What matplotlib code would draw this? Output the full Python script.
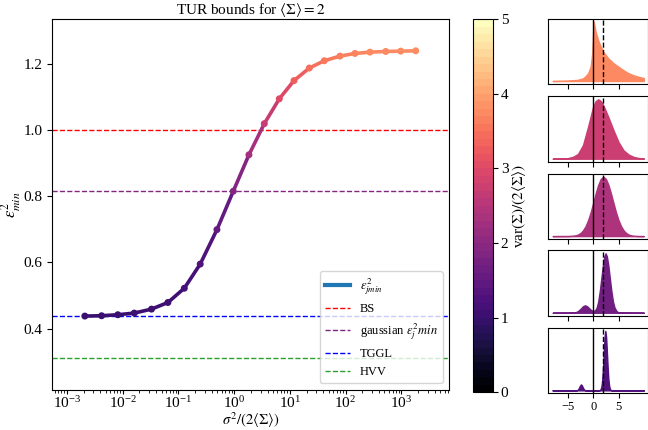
import numpy as np
import matplotlib
matplotlib.use("Agg")
import matplotlib.pyplot as plt
from matplotlib.collections import LineCollection
from matplotlib.lines import Line2D
from matplotlib.colors import Normalize

plt.rcParams['font.family'] = ['Liberation Serif', 'DejaVu Serif']
plt.rcParams['mathtext.fontset'] = 'stix'
plt.rcParams['font.size'] = 11

# main curve: sigma^2/(2<S>) vs eps^2_min, colour = var(S)/(2<S>)
sigma_ratio = [2.1e-3, 4.2e-3, 8.2e-3, 1.62e-2, 3.3e-2, 6.5e-2, 0.128, 0.247, 0.493,
               0.968, 1.85, 3.49, 6.48, 11.9, 22.4, 41.6, 79.6, 148, 275, 527, 980, 1820]
eps_min = [0.438, 0.439, 0.442, 0.447, 0.459, 0.479, 0.522, 0.595, 0.699, 0.815, 0.925,
           1.019, 1.094, 1.149, 1.187, 1.209, 1.223, 1.231, 1.235, 1.237, 1.238, 1.239]
var_ratio = [1.0, 1.0, 1.01, 1.02, 1.03, 1.06, 1.12, 1.25, 1.5, 1.9, 2.3, 2.7, 3.0,
             3.3, 3.5, 3.6, 3.68, 3.73, 3.76, 3.78, 3.8, 3.8]
x_ticks = [1e-3, 1e-2, 1e-1, 1e0, 1e1, 1e2, 1e3]

# bounds
bs_bound = 1.0
gauss_bound = 0.815
tggl_bound = 0.438
hvv_bound = 0.31

# distributions for the side panels (top to bottom)
panel_var = [3.75, 2.75, 2.4, 1.65, 1.25]
p1_x = [-8, -5, -3, -2, -1.5, -1, -0.5, -0.2, 0, 0.1, 0.5, 1, 1.5, 2, 3, 4, 5, 6, 7, 8, 9, 10]
p1_y = [0, 0.005, 0.02, 0.045, 0.08, 0.13, 0.24, 0.45, 0.85, 1.0, 0.82, 0.68, 0.58, 0.49,
        0.38, 0.30, 0.24, 0.18, 0.13, 0.095, 0.07, 0.05]
p2_x = [-8, -6, -5, -4, -3, -2, -1, 0, 0.5, 1, 1.5, 2, 3, 4, 5, 6, 7, 8, 9, 10]
p2_y = [0, 0.002, 0.01, 0.03, 0.08, 0.23, 0.54, 0.88, 0.97, 1.0, 0.97, 0.9, 0.7, 0.48,
        0.28, 0.14, 0.07, 0.03, 0.012, 0.005]
p3_x = [-8, -5, -4, -3.5, -3, -2.5, -2, -1.5, -1, -0.5, 0, 0.5, 1, 1.5, 2, 2.5, 3, 3.5,
        4, 4.5, 5, 5.5, 6, 6.5, 7, 7.5, 8, 9, 10]
p3_y = [0, 0.001, 0.005, 0.012, 0.026, 0.052, 0.097, 0.167, 0.269, 0.40, 0.558, 0.72,
        0.864, 0.964, 1.0, 0.964, 0.864, 0.72, 0.558, 0.40, 0.269, 0.167, 0.097, 0.052,
        0.026, 0.012, 0.005, 0.001, 0]
p4_x = [-8, -5, -4, -3.5, -3, -2.5, -2, -1.6, -1.2, -0.8, -0.4, 0, 0.4, 0.7, 1.0, 1.3,
        1.6, 1.9, 2.2, 2.45, 2.7, 3.0, 3.3, 3.6, 3.9, 4.2, 4.6, 5, 6, 10]
p4_y = [0, 0.0005, 0.0015, 0.0075, 0.027, 0.066, 0.11, 0.125, 0.11, 0.076, 0.045, 0.026,
        0.043, 0.09, 0.19, 0.36, 0.57, 0.79, 0.95, 1.0, 0.95, 0.79, 0.57, 0.36, 0.19,
        0.09, 0.027, 0.006, 0.001, 0]
p5_x = [-8, -3.4, -3.2, -3.0, -2.8, -2.6, -2.4, -2.2, -2.0, -1.8, -1.6, -1.4, 1.0, 1.3,
        1.5, 1.65, 1.8, 1.95, 2.1, 2.25, 2.4, 2.55, 2.7, 2.85, 3.0, 3.15, 3.3, 3.5, 3.8, 10]
p5_y = [0, 0.0, 0.003, 0.0135, 0.041, 0.08, 0.1, 0.08, 0.041, 0.0135, 0.003, 0.0, 0.0,
        0.004, 0.025, 0.077, 0.19, 0.40, 0.66, 0.90, 1.0, 0.90, 0.66, 0.40, 0.19, 0.077,
        0.025, 0.004, 0.0, 0]
panels_x = [p1_x, p2_x, p3_x, p4_x, p5_x]
panels_y = [p1_y, p2_y, p3_y, p4_y, p5_y]
mean_sigma = 2

magma = plt.get_cmap('magma')
cmap = magma.resampled(50)
norm = Normalize(vmin=0, vmax=5)
gauss_col = magma(0.38)

fig = plt.figure(figsize=(6.48, 4.30), dpi=100)
ax = fig.add_axes([0.0802, 0.094, 0.6127, 0.861])

pts = np.column_stack([sigma_ratio, eps_min])
segs = np.stack([pts[:-1], pts[1:]], axis=1)
lc = LineCollection(segs, colors=magma(norm(np.array(var_ratio[:-1]))),
                    linewidths=2.6, capstyle='round', zorder=3)
ax.add_collection(lc)
ax.scatter(sigma_ratio, eps_min, c=var_ratio, cmap='magma', norm=norm, s=16, zorder=4)

ax.axhline(bs_bound, color='r', ls='--', lw=1)
ax.axhline(gauss_bound, color=gauss_col, ls='--', lw=1)
ax.axhline(tggl_bound, color='b', ls='--', lw=1)
ax.axhline(hvv_bound, color='tab:green', ls='--', lw=1)

ax.set_xscale('log')
ax.set_xticks(x_ticks)
ax.set_xlim(5.4e-4, 7200)
ax.set_ylim(0.216, 1.334)
ax.set_yticks([0.4, 0.6, 0.8, 1.0, 1.2])
ax.tick_params(axis='x', pad=1, length=3)
ax.set_xlabel(r'$\sigma^2/(2\langle\Sigma\rangle)$', fontsize=10.5)
ax.xaxis.set_label_coords(0.5, -0.056)
ax.set_ylabel(r'$\varepsilon^2_{min}$', fontsize=12)
ax.yaxis.set_label_coords(-0.072, 0.5)
ax.set_title(r'TUR bounds for $\langle\Sigma\rangle = 2$', fontsize=11, pad=3)

handles = [Line2D([], [], color='tab:blue', lw=3),
           Line2D([], [], color='r', ls='--', lw=1),
           Line2D([], [], color=gauss_col, ls='--', lw=1),
           Line2D([], [], color='b', ls='--', lw=1),
           Line2D([], [], color='tab:green', ls='--', lw=1)]
labels = [r'$\varepsilon^2_{jmin}$', 'BS', r'gaussian $\varepsilon^2_j min$', 'TGGL', 'HVV']
ax.legend(handles, labels, loc='lower right', fontsize=9)

cax = fig.add_axes([0.730, 0.0877, 0.0309, 0.8674])
sm = plt.cm.ScalarMappable(cmap=cmap, norm=norm)
cb = fig.colorbar(sm, cax=cax)
cb.ax.tick_params(pad=2)
cb.set_label(r'var$(\Sigma)/(2\langle\Sigma\rangle)$', labelpad=1)

bottoms = [0.8047, 0.624, 0.444, 0.2658, 0.0853]
for i in range(5):
    pax = fig.add_axes([0.8457, bottoms[i], 0.155, 0.152])
    col = magma(norm(panel_var[i]))
    pax.fill_between(panels_x[i], panels_y[i], color=col, lw=1)
    pax.axvline(0, color='k', lw=1)
    pax.axvline(mean_sigma, color='k', ls='--', lw=1)
    pax.set_xlim(-8.9, 10.9)
    pax.set_yticks([])
    pax.set_xticks([-5, 0, 5])
    if i < 4:
        pax.set_xticklabels([])
    else:
        pax.tick_params(labelsize=9, pad=2)

fig.savefig('out.png', dpi=100)
